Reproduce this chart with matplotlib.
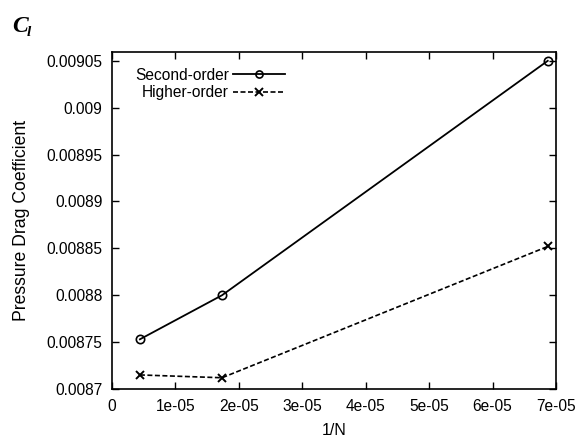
import matplotlib
matplotlib.use("Agg")
import matplotlib.pyplot as plt

inv_n = [4.4e-06, 1.735e-05, 6.87e-05]
second_order = [0.008753, 0.00880, 0.00905]
higher_order = [0.008715, 0.008712, 0.008852]
xticks = [0, 1e-05, 2e-05, 3e-05, 4e-05, 5e-05, 6e-05, 7e-05]
xtick_labels = ["0", "1e-05", "2e-05", "3e-05", "4e-05", "5e-05", "6e-05", "7e-05"]
yticks = [0.0087, 0.00875, 0.0088, 0.00885, 0.0089, 0.00895, 0.009, 0.00905]
ytick_labels = ["0.0087", "0.00875", "0.0088", "0.00885", "0.0089", "0.00895", "0.009", "0.00905"]

plt.rcParams['font.family'] = ['Liberation Sans', 'DejaVu Sans']

fig = plt.figure(figsize=(5.77, 4.40), dpi=100)
ax = fig.add_axes([112/577, 1-389/440, (556-112)/577, (389-52)/440])

ax.plot(inv_n, second_order, color='black', lw=1.3, marker='o', ms=6,
        mfc='none', mew=1.2, label='Second-order')
ax.plot(inv_n, higher_order, color='black', lw=1.2, ls=(0, (3, 1.5)), marker='x', ms=6,
        mew=1.4, label='Higher-order')

ax.set_xlim(0, 7e-05)
ax.set_ylim(0.0087, 0.0090594)
ax.set_xticks(xticks)
ax.set_xticklabels(xtick_labels)
ax.set_yticks(yticks)
ax.set_yticklabels(ytick_labels)
ax.tick_params(direction='in', length=5, width=1, top=True, right=True, labelsize=11.2, pad=7)
for s in ax.spines.values():
    s.set_linewidth(1.2)

ax.set_xlabel('1/N', fontsize=11.5, labelpad=7)
ax.set_ylabel('Pressure Drag Coefficient', fontsize=12.7, labelpad=12)

leg = ax.legend(loc='upper left', frameon=False, markerfirst=False, fontsize=11.2,
                handlelength=3.3, handletextpad=0.3, labelspacing=0.15,
                bbox_to_anchor=(0.02, 0.995), markerscale=0.85)
for t in leg.get_texts():
    t.set_ha('right')

fig.text(12/577, 1-32/440, 'C', fontsize=17, fontweight='bold', fontstyle='italic',
         family='Liberation Serif')
fig.text(27/577, 1-36/440, 'l', fontsize=11, fontweight='bold', fontstyle='italic',
         family='Liberation Serif')

fig.savefig('out.png', dpi=100)
